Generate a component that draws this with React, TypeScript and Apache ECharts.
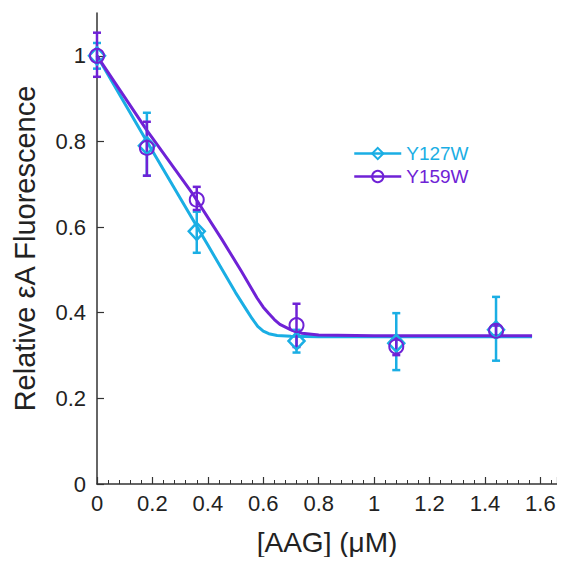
import React, { useEffect, useRef } from "react";
import * as echarts from "echarts";

const CYAN = "#1AAEE4";
const PURPLE = "#6F22D6";

// measured points [x, y]
const y127Points = [[0, 1.0], [0.18, 0.79], [0.36, 0.59], [0.72, 0.334], [1.08, 0.329], [1.44, 0.36]];
const y159Points = [[0, 1.0], [0.18, 0.785], [0.36, 0.664], [0.72, 0.371], [1.08, 0.321], [1.44, 0.358]];

// error bars [x, low, high]
const y127Errors = [[0, 0.97, 1.03], [0.18, 0.72, 0.867], [0.36, 0.54, 0.636], [0.72, 0.307, 0.36], [1.08, 0.266, 0.399], [1.44, 0.288, 0.437]];
const y159Errors = [[0, 0.951, 1.054], [0.18, 0.72, 0.846], [0.36, 0.64, 0.694], [0.72, 0.32, 0.421], [1.08, 0.301, 0.34], [1.44, 0.345, 0.37]];

// fitted curves
const y127Fit = [[0, 1.0], [0.18, 0.8], [0.3, 0.668], [0.4, 0.558], [0.5, 0.447], [0.54, 0.406], [0.56, 0.386], [0.58, 0.368], [0.6, 0.357], [0.62, 0.351], [0.65, 0.347], [0.7, 0.345], [0.8, 0.344], [1.57, 0.344]];
const y159Fit = [[0, 1.0], [0.18, 0.826], [0.348, 0.675], [0.45, 0.572], [0.52, 0.498], [0.577, 0.435], [0.6, 0.413], [0.62, 0.398], [0.64, 0.384], [0.66, 0.373], [0.7, 0.36], [0.74, 0.352], [0.8, 0.348], [1.0, 0.346], [1.57, 0.346]];

const xMaxValue = 1.66;
const yMaxValue = 1.1;

const FONT = "Liberation Sans, Arial, sans-serif";

function errorSeries(name: string, data: number[][], color: string, z: number) {
  return {
    type: "custom",
    name: name + "-err",
    data,
    z,
    encode: { x: 0, y: [1, 2] },
    silent: true,
    renderItem: (params: any, api: any) => {
      const x = api.value(0);
      const lo = api.coord([x, api.value(1)]);
      const hi = api.coord([x, api.value(2)]);
      const w = 4;
      const st = { stroke: color, lineWidth: 2.5 };
      return {
        type: "group",
        children: [
          { type: "line", shape: { x1: lo[0], y1: lo[1], x2: hi[0], y2: hi[1] }, style: st },
          { type: "line", shape: { x1: hi[0] - w, y1: hi[1], x2: hi[0] + w, y2: hi[1] }, style: st },
          { type: "line", shape: { x1: lo[0] - w, y1: lo[1], x2: lo[0] + w, y2: lo[1] }, style: st },
        ],
      };
    },
  };
}

export default function App() {
  const ref = useRef<HTMLDivElement>(null);
  useEffect(() => {
    if (!ref.current) return;
    const chart = echarts.init(ref.current, null, { renderer: "svg" });
    chart.setOption({
      animation: false,
      textStyle: { fontFamily: FONT },
      grid: { left: 97, top: 13, right: 8, bottom: 81, containLabel: false, outerBoundsMode: "none" },
      legend: {
        orient: "vertical",
        left: 348,
        top: 139,
        itemWidth: 47,
        itemHeight: 14,
        itemGap: 4,
        textStyle: { fontSize: 19, fontFamily: FONT },
        lineStyle: { width: 2.5, opacity: 1 },
        data: [
          { name: "Y127W", textStyle: { color: CYAN } },
          { name: "Y159W", textStyle: { color: PURPLE } },
        ],
      },
      xAxis: {
        type: "value",
        min: 0,
        max: xMaxValue,
        interval: 0.2,
        name: "[AAG] (μM)",
        nameLocation: "middle",
        nameGap: 44,
        nameTextStyle: { fontSize: 28, color: "#222", fontFamily: FONT },
        axisLine: { show: true, lineStyle: { color: "#333", width: 1.5 } },
        axisTick: { show: true, inside: true, length: 7, lineStyle: { color: "#333", width: 1.2 } },
        minorTick: { show: true, splitNumber: 5, length: 4, lineStyle: { color: "#333", width: 1 } },
        splitLine: { show: false },
        axisLabel: {
          fontSize: 22,
          color: "#222",
          margin: 8,
          showMaxLabel: false,
          formatter: (v: number) => String(Math.round(v * 10) / 10),
        },
      },
      yAxis: {
        type: "value",
        min: 0,
        max: yMaxValue,
        interval: 0.2,
        name: "Relative εA Fluorescence",
        nameLocation: "middle",
        nameGap: 58,
        nameTextStyle: { fontSize: 29, color: "#222", fontFamily: FONT },
        axisLine: { show: true, lineStyle: { color: "#333", width: 1.5 } },
        axisTick: { show: true, inside: true, length: 7, lineStyle: { color: "#333", width: 1.2 } },
        splitLine: { show: false },
        axisLabel: {
          fontSize: 22,
          color: "#222",
          margin: 11,
          showMaxLabel: false,
          formatter: (v: number) => String(Math.round(v * 10) / 10),
        },
      },
      series: [
        {
          type: "line",
          name: "Y127W-fit",
          data: y127Fit,
          smooth: false,
          showSymbol: false,
          symbol: "none",
          lineStyle: { color: CYAN, width: 3, join: "round" },
          z: 2,
          silent: true,
        },
        {
          type: "line",
          name: "Y159W-fit",
          data: y159Fit,
          smooth: false,
          showSymbol: false,
          symbol: "none",
          lineStyle: { color: PURPLE, width: 3, join: "round" },
          z: 3,
          silent: true,
        },
        errorSeries("Y127W", y127Errors, CYAN, 4),
        errorSeries("Y159W", y159Errors, PURPLE, 5),
        {
          type: "line",
          name: "Y127W",
          data: y127Points,
          symbol: "diamond",
          symbolSize: [16, 17],
          showAllSymbol: true,
          lineStyle: { opacity: 0, color: CYAN, width: 2.5 },
          itemStyle: { color: "rgba(255,255,255,0)", borderColor: CYAN, borderWidth: 2.5 },
          z: 6,
        },
        {
          type: "line",
          name: "Y159W",
          data: y159Points,
          symbol: "circle",
          symbolSize: 14,
          showAllSymbol: true,
          lineStyle: { opacity: 0, color: PURPLE, width: 2.5 },
          itemStyle: { color: "rgba(255,255,255,0)", borderColor: PURPLE, borderWidth: 2 },
          z: 7,
        },
      ],
    });
    return () => chart.dispose();
  }, []);
  return <div ref={ref} style={{ width: 565, height: 565, margin: -8 }} />;
}
